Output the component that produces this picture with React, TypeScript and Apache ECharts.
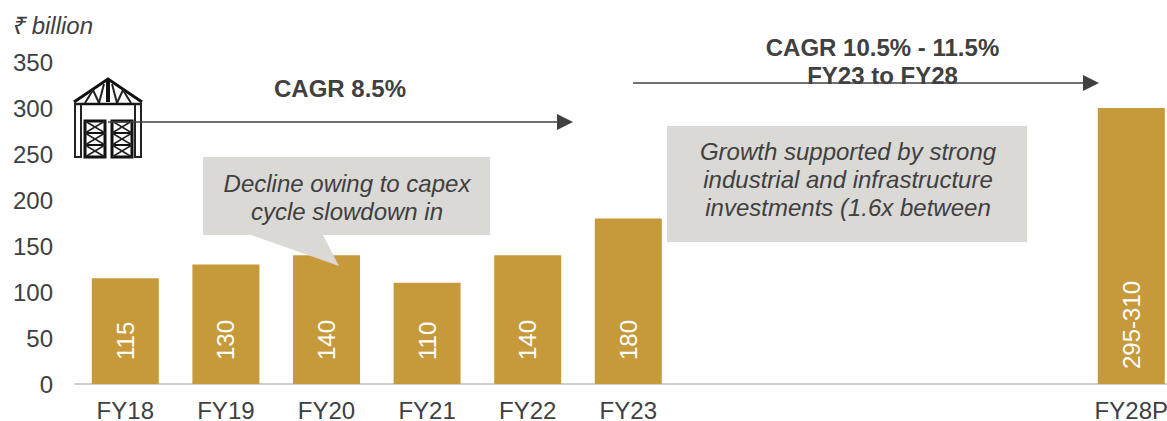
import React, { useEffect, useRef } from "react";
import * as echarts from "echarts";

const categories = ["FY18", "FY19", "FY20", "FY21", "FY22", "FY23", "", "", "", "", "FY28P"];
const values = [115, 130, 140, 110, 140, 180, null, null, null, null, 300];
const barLabels = ["115", "130", "140", "110", "140", "180", "", "", "", "", "295-310"];
const yTicks = { min: 0, max: 350, interval: 50 };

const FONT = '"Liberation Sans", Arial, sans-serif';
const TEXT = "#404040";
const GOLD = "#C69A3A";
const BOX = "#DAD9D6";
const SIZE = 24;

const line = (x1: number, y1: number, x2: number, y2: number, w = 2, stroke = "#222222") => ({
  type: "line", shape: { x1, y1, x2, y2 }, style: { stroke, lineWidth: w },
});
const bold = (text: string, x: number, y: number) => ({
  type: "text", x, y,
  style: { text, fill: TEXT, font: `bold ${SIZE}px ${FONT}`, textAlign: "center", textVerticalAlign: "middle" },
});
const ital = (text: string, x: number, y: number) => ({
  type: "text", x, y,
  style: { text, fill: TEXT, font: `italic ${SIZE}px ${FONT}`, textAlign: "center", textVerticalAlign: "middle" },
});
const arrow = (x1: number, x2: number, y: number) => [
  line(x1, y, x2 - 14, y, 1.5, TEXT),
  { type: "polygon", shape: { points: [[x2 - 16, y - 8], [x2, y], [x2 - 16, y + 8]] }, style: { fill: TEXT } },
];
const door = (x: number) => [
  { type: "rect", shape: { x, y: 121, width: 20, height: 36 }, style: { fill: "none", stroke: "#111111", lineWidth: 3 } },
  line(x, 133, x + 20, 133, 2, "#111111"),
  line(x, 145, x + 20, 145, 2, "#111111"),
  line(x, 121, x + 20, 133, 1.5), line(x + 20, 121, x, 133, 1.5),
  line(x, 133, x + 20, 145, 1.5), line(x + 20, 133, x, 145, 1.5),
  line(x, 145, x + 20, 157, 1.5), line(x + 20, 145, x, 157, 1.5),
];
const factory = [
  { type: "polyline", shape: { points: [[74, 102], [108, 79], [142, 102]] }, style: { fill: "none", stroke: "#111111", lineWidth: 3 } },
  line(74, 104, 142, 104, 2.5, "#111111"),
  line(108, 79, 108, 102, 4, "#111111"),
  line(85, 103, 93, 90), line(93, 90, 99, 103), line(99, 103, 104, 84),
  line(131, 103, 123, 90), line(123, 90, 117, 103), line(117, 103, 112, 84),
  { type: "rect", shape: { x: 75, y: 104, width: 6, height: 53 }, style: { fill: "none", stroke: "#222222", lineWidth: 2 } },
  { type: "rect", shape: { x: 135, y: 104, width: 6, height: 53 }, style: { fill: "none", stroke: "#222222", lineWidth: 2 } },
  ...door(85), ...door(112),
];

export default function App() {
  const ref = useRef<HTMLDivElement>(null);
  useEffect(() => {
    document.body.style.margin = "0";
    const chart = echarts.init(ref.current!, undefined, { renderer: "svg" });
    const elements: any[] = [
      { type: "text", x: 11, y: 25, style: { text: "₹ billion", fill: TEXT, font: `italic ${SIZE}px ${FONT}`, textAlign: "left", textVerticalAlign: "middle" } },
      ...factory,
      bold("CAGR 8.5%", 340, 88),
      bold("CAGR 10.5% - 11.5%", 882.5, 47),
      bold("FY23 to FY28", 882.5, 75),
      ...arrow(108, 573, 122),
      ...arrow(633, 1099, 83),
      { type: "polygon", shape: { points: [[203, 157], [490, 157], [490, 235], [323, 235], [339, 266], [251, 235], [203, 235]] }, style: { fill: BOX } },
      ital("Decline owing to capex", 347, 183),
      ital("cycle slowdown in", 347, 211),
      { type: "rect", shape: { x: 667, y: 126, width: 360, height: 116 }, style: { fill: BOX } },
      ital("Growth supported by strong", 848, 151),
      ital("industrial and infrastructure", 848, 179),
      ital("investments (1.6x between", 848, 207),
    ];
    chart.setOption({
      animation: false,
      grid: { left: 75, top: 62, height: 322, width: 1106.6, outerBoundsMode: "none", containLabel: false },
      xAxis: {
        type: "category", data: categories,
        axisTick: { show: false },
        axisLine: { lineStyle: { color: "#BFBFBF", width: 1.5 } },
        axisLabel: { interval: 0, color: TEXT, fontFamily: FONT, fontSize: SIZE, margin: 14, hideOverlap: false },
      },
      yAxis: {
        type: "value", ...yTicks,
        splitLine: { show: false }, axisLine: { show: false }, axisTick: { show: false },
        axisLabel: { color: TEXT, fontFamily: FONT, fontSize: SIZE, margin: 22 },
      },
      series: [{
        type: "bar", barWidth: 67, silent: true,
        itemStyle: { color: GOLD },
        data: values.map((v, i) => ({
          value: v,
          label: { distance: barLabels[i].length > 3 ? 15 : 24 },
        })),
        label: {
          show: true, position: "insideBottom", rotate: 90, align: "left", verticalAlign: "middle",
          color: "#FFFFFF", fontFamily: FONT, fontSize: SIZE,
          formatter: (p: any) => barLabels[p.dataIndex],
        },
      }],
      graphic: elements.map((e) => ({ ...e, z: 10 })),
    });
    return () => chart.dispose();
  }, []);
  return <div ref={ref} style={{ width: 1167, height: 421 }} />;
}
